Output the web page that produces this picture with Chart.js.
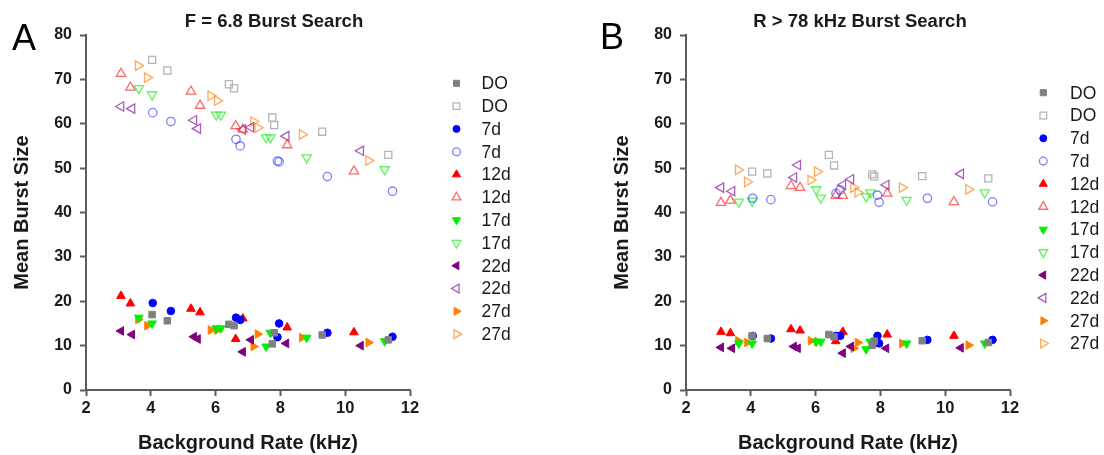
<!DOCTYPE html>
<html>
<head>
<meta charset="utf-8">
<script src="https://cdn.jsdelivr.net/npm/chart.js@4.4.1/dist/chart.umd.min.js"></script>
<style>
  html, body { margin: 0; padding: 0; background: #fff; overflow: hidden; }
  #wrap { position: relative; width: 1104px; height: 455px; }
  canvas { position: absolute; top: 0; }
</style>
</head>
<body>
<div id="wrap">
  <canvas id="panelA" width="520" height="455" style="left:0;width:520px;height:455px"></canvas>
  <canvas id="panelB" width="504" height="455" style="left:600px;width:504px;height:455px"></canvas>
</div>
<script>
// groups (age after deafening), same recordings in both panels
const groupLabels = ["DO", "7d", "12d", "17d", "22d", "27d"];

// background rate (kHz) per recording
const rateDO  = [4.04, 4.51, 6.41, 6.57, 7.75, 7.81, 9.29, 11.33];
const rate7d  = [4.06, 4.62, 6.63, 6.76, 7.91, 7.96, 9.45, 11.46];
const rate12d = [3.08, 3.37, 5.24, 5.52, 6.62, 6.84, 8.21, 10.27];
const rate17d = [3.63, 4.04, 6.02, 6.16, 7.56, 7.69, 8.81, 11.22];
const rate22d = [3.08, 3.42, 5.33, 5.45, 6.84, 7.09, 8.18, 10.48];
const rate27d = [3.61, 3.89, 5.85, 6.05, 7.17, 7.30, 8.67, 10.72];

// panel A (F = 6.8) mean burst size, filled / open symbols
const aFilledDO  = [17.0, 15.6, 14.8, 14.5, 10.4, 12.9, 12.4, 11.3];
const aOpenDO    = [74.4, 72.0, 68.9, 68.0, 61.4, 59.7, 58.2, 53.0];
const aFilled7d  = [19.6, 17.8, 16.3, 15.8, 11.9, 15.0, 12.9, 12.0];
const aOpen7d    = [62.5, 60.5, 56.5, 55.0, 51.6, 51.4, 48.1, 44.8];
const aFilled12d = [21.2, 19.5, 18.3, 17.5, 11.5, 16.1, 14.1, 13.0];
const aOpen12d   = [71.3, 68.2, 67.3, 64.1, 59.5, 58.7, 55.2, 49.3];
const aFilled17d = [16.3, 15.0, 13.9, 13.9, 9.8, 12.9, 11.8, 11.0];
const aOpen17d   = [68.0, 66.6, 62.0, 62.0, 56.9, 56.9, 52.4, 49.7];
const aFilled22d = [13.3, 12.5, 12.0, 11.5, 8.6, 11.3, 10.5, 10.0];
const aOpen22d   = [63.9, 63.4, 60.8, 58.9, 58.7, 59.2, 57.2, 53.9];
const aFilled27d = [15.9, 14.5, 13.5, 13.5, 9.8, 12.6, 11.8, 10.7];
const aOpen27d   = [73.1, 70.4, 66.3, 65.2, 60.5, 59.1, 57.6, 51.7];

// panel B (R > 78 kHz)
const bFilledDO  = [12.2, 11.6, 12.5, 12.0, 10.1, 11.0, 11.1, 10.7];
const bOpenDO    = [49.2, 48.8, 53.0, 50.6, 48.6, 48.1, 48.2, 47.7];
const bFilled7d  = [12.2, 11.6, 12.2, 12.2, 12.2, 10.5, 11.3, 11.3];
const bOpen7d    = [43.2, 42.9, 44.3, 45.1, 43.9, 42.3, 43.2, 42.4];
const bFilled12d = [13.1, 12.8, 13.7, 13.4, 11.0, 13.1, 12.5, 12.2];
const bOpen12d   = [42.2, 42.7, 46.0, 45.6, 43.8, 43.8, 44.3, 42.4];
const bFilled17d = [10.5, 10.5, 10.9, 10.9, 9.2, 10.9, 10.5, 10.5];
const bOpen17d   = [42.4, 42.6, 45.2, 43.3, 43.6, 44.5, 42.8, 44.5];
const bFilled22d = [9.6, 9.4, 9.8, 9.4, 8.3, 9.8, 9.4, 9.5];
const bOpen22d   = [45.6, 44.8, 47.9, 50.7, 46.2, 47.5, 46.2, 48.7];
const bFilled27d = [11.1, 10.7, 11.1, 10.9, 9.4, 10.7, 10.5, 10.1];
const bOpen27d   = [49.6, 46.9, 47.3, 49.2, 45.6, 44.5, 45.6, 45.2];

const xTicks = [2, 4, 6, 8, 10, 12];
const yTicks = [0, 10, 20, 30, 40, 50, 60, 70, 80];

const FONT = '"Liberation Sans", Arial, Helvetica, sans-serif';
Chart.defaults.font.family = FONT;

// symbol per group: [style, rotation, filled colour, open colour]
const simbolos = [
  ["rect", 0, "#808080", "#b5b5b5"],
  ["circle", 0, "#0000ff", "rgba(60,60,255,0.65)"],
  ["triangle", 0, "#ff0000", "rgba(255,40,40,0.7)"],
  ["triangle", 180, "#00f000", "rgba(40,240,40,0.75)"],
  ["triangle", 270, "#800080", "rgba(140,40,160,0.75)"],
  ["triangle", 90, "#ff8000", "rgba(255,140,40,0.75)"],
];

function raio(style) {
  if (style === "circle") return 4.2;
  if (style === "rect") return 5;
  return 5.4;
}

function serie(label, xs, ys, g, cheio) {
  const [style, rot, corCheia, corAberta] = simbolos[g];
  return {
    label: label,
    data: xs.map((x, i) => ({ x: x, y: ys[i] })),
    pointStyle: style,
    rotation: rot,
    pointRadius: cheio ? raio(style) - 0.4 : raio(style),
    borderWidth: cheio ? 1 : 1.3,
    borderColor: cheio ? corCheia : corAberta,
    backgroundColor: cheio ? corCheia : "rgba(0,0,0,0)",
    showLine: false,
  };
}

function montarDatasets(filled, open) {
  const rates = [rateDO, rate7d, rate12d, rate17d, rate22d, rate27d];
  const out = [];
  groupLabels.forEach((lab, g) => {
    out.push(serie(lab, rates[g], filled[g], g, true));
    out.push(serie(lab, rates[g], open[g], g, false));
  });
  return out;
}

// letter, title and legend drawn next to the plot
const painelDecor = {
  id: "painelDecor",
  afterDraw(chart, args, o) {
    const ctx = chart.ctx;
    ctx.save();
    ctx.fillStyle = "#000";
    ctx.textAlign = "left";
    ctx.textBaseline = "alphabetic";
    ctx.font = "36px " + FONT;
    ctx.fillText(o.letter, o.letterX, o.letterY);

    ctx.fillStyle = "#1a1a1a";
    ctx.textAlign = "center";
    ctx.font = "bold 18.5px " + FONT;
    ctx.fillText(o.title, o.titleX, 27);

    ctx.textAlign = "left";
    ctx.textBaseline = "middle";
    ctx.font = "17.5px " + FONT;
    chart.data.datasets.forEach((ds, i) => {
      const y = o.legendY + i * 22.8;
      ctx.save();
      ctx.fillStyle = ds.backgroundColor;
      ctx.strokeStyle = ds.borderColor;
      ctx.lineWidth = ds.borderWidth;
      Chart.helpers.drawPoint(ctx, {
        pointStyle: ds.pointStyle,
        rotation: ds.rotation,
        radius: ds.pointRadius - 0.3,
        borderWidth: ds.borderWidth,
      }, o.legendX, y);
      ctx.restore();
      ctx.fillStyle = "#1a1a1a";
      ctx.fillText(ds.label, o.textX, y + 1);
    });
    ctx.restore();
  },
};

function eixo(min, max, ticks, titulo, fontTick) {
  return {
    type: "linear",
    min: min,
    max: max,
    afterBuildTicks: (s) => { s.ticks = ticks.map((v) => ({ value: v })); },
    ticks: {
      color: "#1a1a1a",
      font: { size: fontTick, weight: "bold" },
      padding: 7,
    },
    grid: {
      display: true,
      drawOnChartArea: false,
      drawTicks: true,
      tickLength: 6,
      tickWidth: 2,
      tickColor: "#5c5c5c",
    },
    border: { display: true, color: "#5c5c5c", width: 2 },
    title: {
      display: true,
      text: titulo,
      color: "#1a1a1a",
      font: { size: 20, weight: "bold", lineHeight: 1.2 },
    },
  };
}

function criarPainel(id, filled, open, decor, padRight) {
  const x = eixo(2, 12, xTicks, "Background Rate (kHz)", 16.5);
  x.ticks.padding = 3;
  x.title.padding = { top: 0, bottom: 0 };
  x.afterFit = (s) => { s.height = 65; };

  const y = eixo(0, 80, yTicks, "Mean Burst Size", 16);
  y.ticks.padding = 8;
  y.title.padding = { top: 10.5, bottom: 0 };
  y.afterFit = (s) => { s.width = 86; };

  return new Chart(document.getElementById(id), {
    type: "scatter",
    data: { datasets: montarDatasets(filled, open) },
    options: {
      responsive: false,
      animation: false,
      events: [],
      layout: { padding: { top: 35, right: padRight, bottom: 0, left: 0 } },
      scales: { x: x, y: y },
      plugins: {
        legend: { display: false },
        title: { display: false },
        tooltip: { enabled: false },
        painelDecor: decor,
      },
    },
    plugins: [painelDecor],
  });
}

criarPainel("panelA",
  [aFilledDO, aFilled7d, aFilled12d, aFilled17d, aFilled22d, aFilled27d],
  [aOpenDO, aOpen7d, aOpen12d, aOpen17d, aOpen22d, aOpen27d],
  { letter: "A", letterX: 12, letterY: 50, title: "F = 6.8 Burst Search", titleX: 274,
    legendX: 456.5, legendY: 83.3, textX: 481.5 },
  110);

criarPainel("panelB",
  [bFilledDO, bFilled7d, bFilled12d, bFilled17d, bFilled22d, bFilled27d],
  [bOpenDO, bOpen7d, bOpen12d, bOpen17d, bOpen22d, bOpen27d],
  { letter: "B", letterX: 0, letterY: 48.5, title: "R > 78 kHz Burst Search", titleX: 260,
    legendX: 443.3, legendY: 92.7, textX: 470 },
  94);
</script>
</body>
</html>
